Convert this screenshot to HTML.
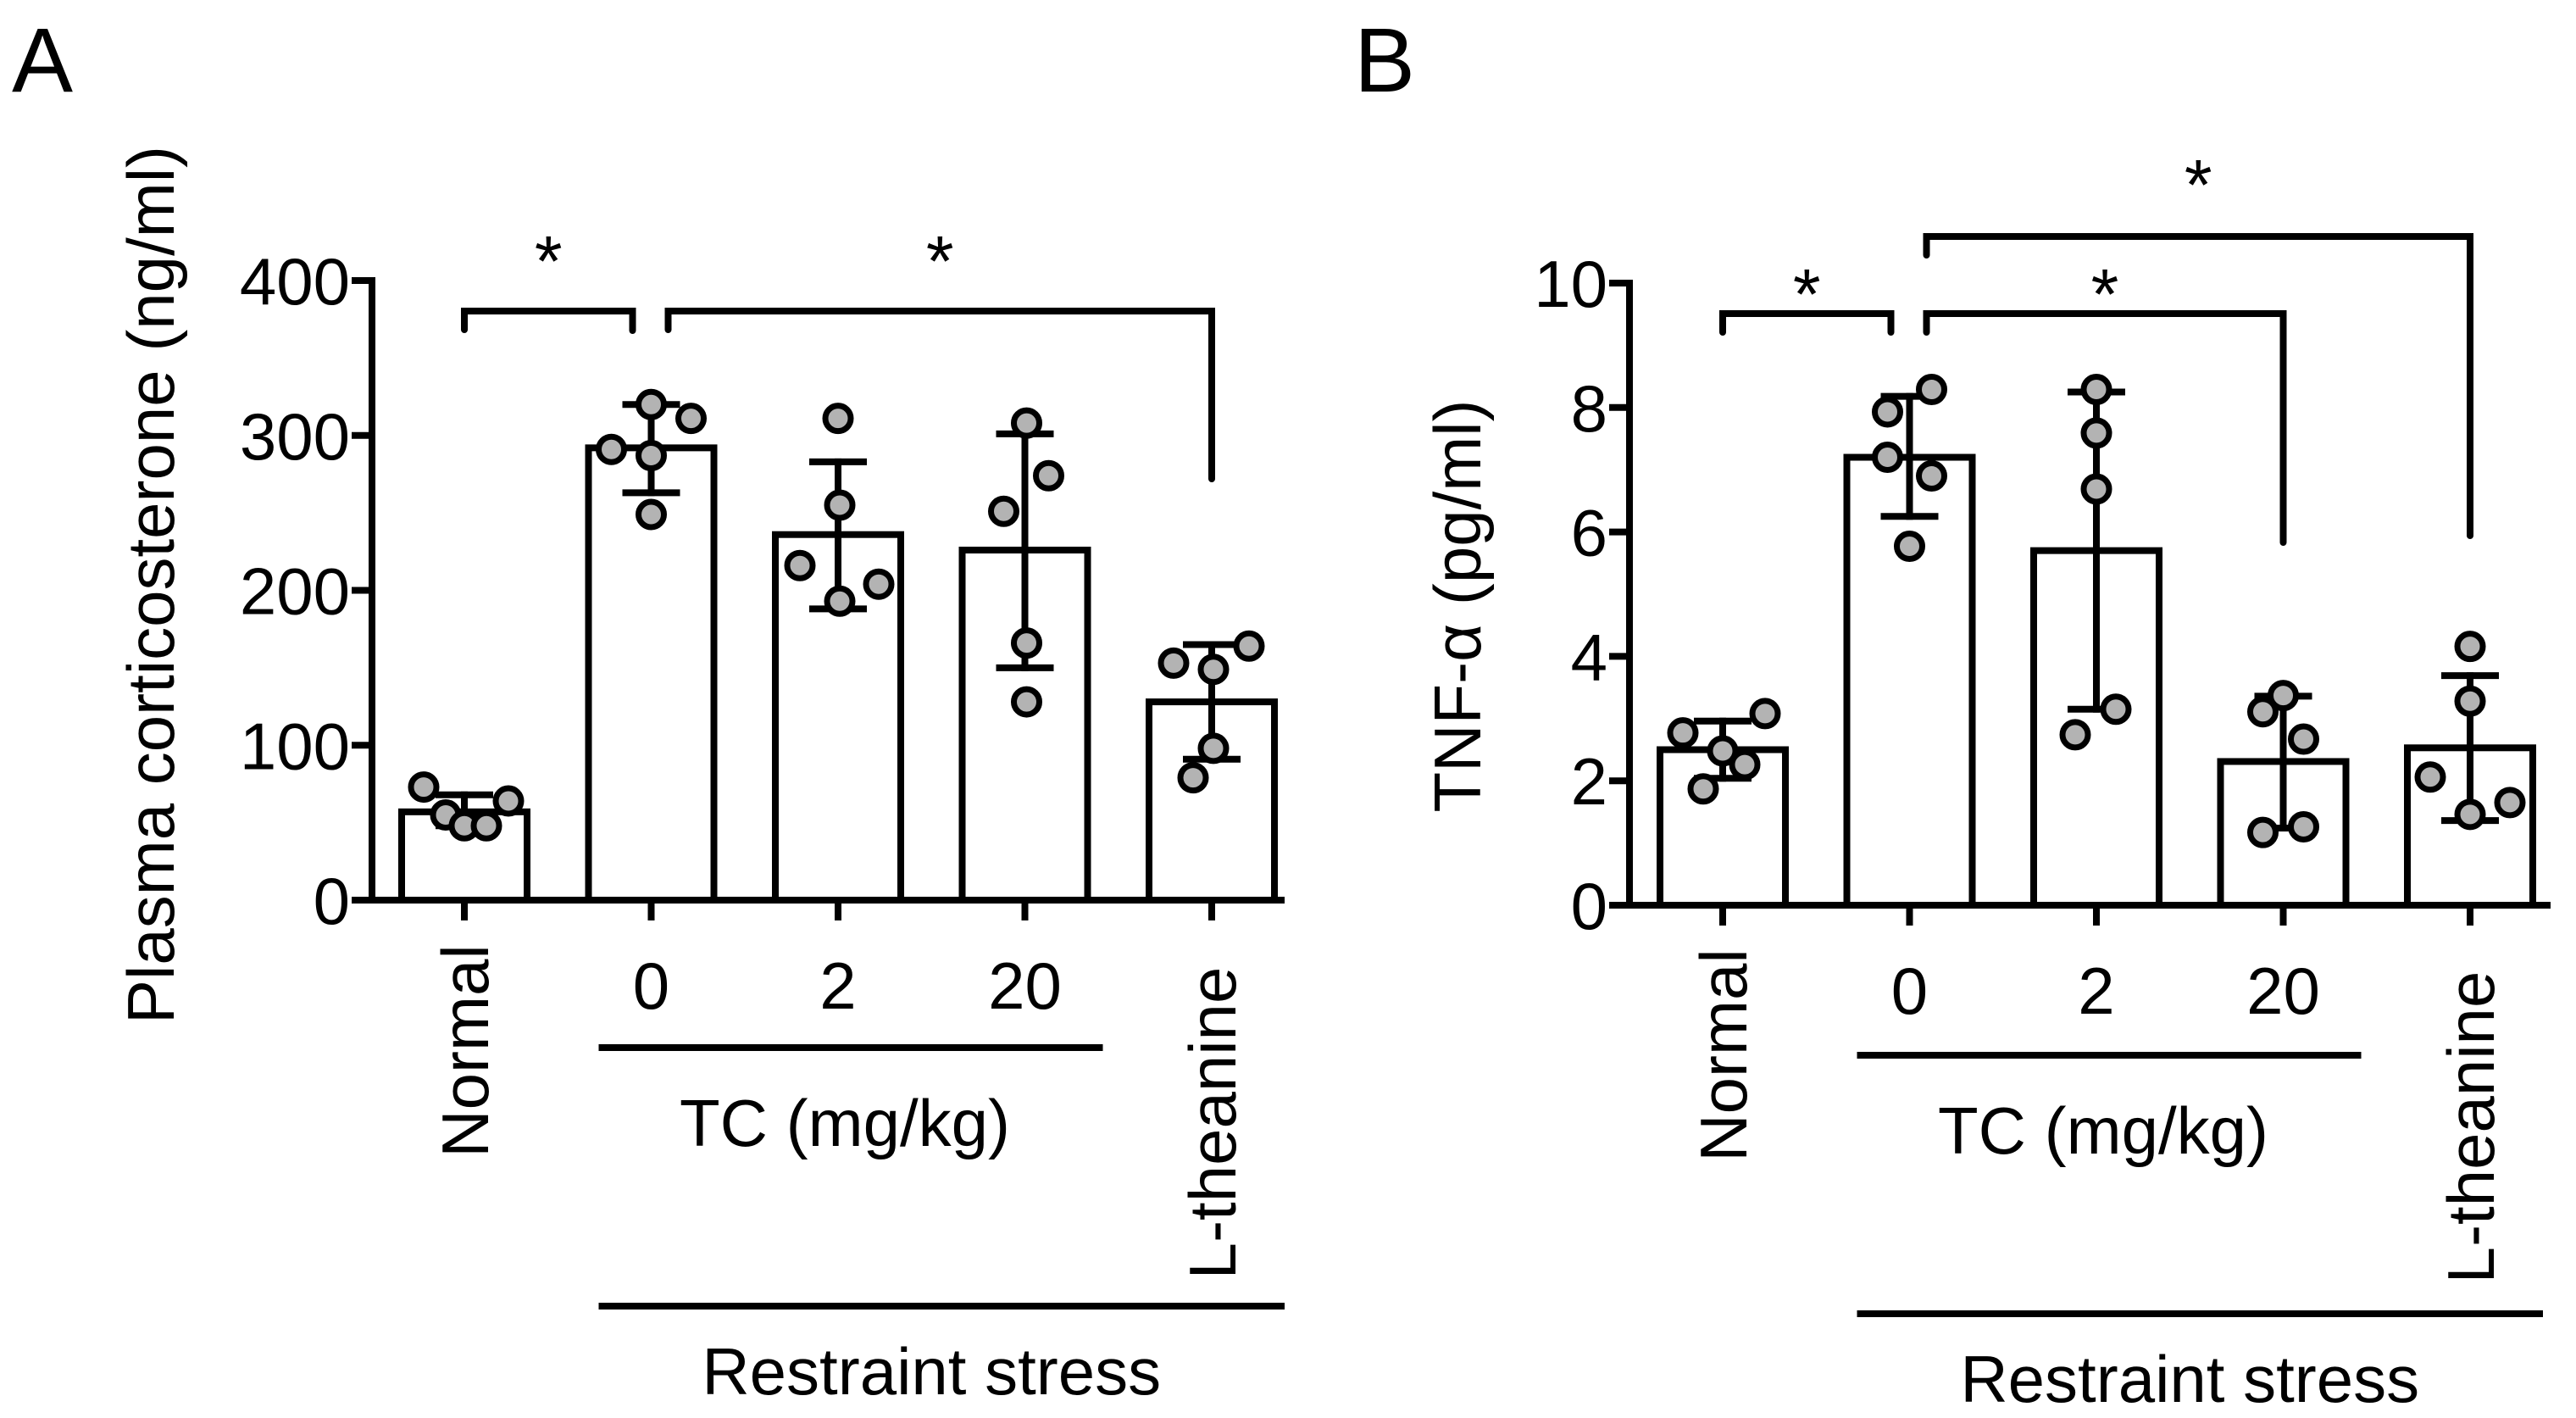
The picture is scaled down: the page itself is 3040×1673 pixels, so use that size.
<!DOCTYPE html>
<html><head><meta charset="utf-8">
<style>html,body{margin:0;padding:0;background:#fff;}svg{display:block;font-family:"Liberation Sans",Arial,sans-serif;}</style>
</head><body>
<svg id="chart" width="3040" height="1673" viewBox="0 0 3040 1673" xmlns="http://www.w3.org/2000/svg">
<rect width="3040" height="1673" fill="#fff"/>
<text x="14" y="108" font-size="108">A</text>
<text x="1598" y="108" font-size="108">B</text>
<g id="pa"></g>
<g id="pb"></g>
</svg>
<script>
const categories = ["Normal","0","2","20","L-theanine"];
const aMeans = [57, 292, 236, 226, 128];
const aErrLo = [48, 263, 188, 150, 91];
const aErrHi = [68, 320, 283, 301, 165];
const aDots = [[73,55,48,48,64],[291,320,311,287,249],[311,255,216,193,204],[308,274,251,166,128],[153,149,164,98,79]];
const aDotOff = [[-48,-22,0,26,52],[-47,0,47,0,0],[0,2,-45,2,48],[2,28,-25,2,2],[-45,2,44,2,-22]];
const aTicks = [0,100,200,300,400];
const bMeans = [2.5, 7.2, 5.7, 2.31, 2.53];
const bErrLo = [2.04, 6.25, 3.15, 1.24, 1.36];
const bErrHi = [2.96, 8.18, 8.25, 3.36, 3.69];
const bDots = [[2.77,3.08,2.48,2.26,1.87],[8.29,7.93,7.2,6.9,5.77],[8.29,7.59,6.69,3.15,2.74],[3.37,3.11,2.67,1.26,1.17],[4.16,3.28,2.06,1.65,1.46]];
const bDotOff = [[-47,50,0,26,-23],[26,-26,-26,26,0],[0,0,0,23,-25],[0,-24,24,24,-24],[0,0,-47,47,0]];
const bTicks = [0,2,4,6,8,10];

const NS="http://www.w3.org/2000/svg";
const FS=78;
function mk(p,tag,attrs,name,txt){const e=document.createElementNS(NS,tag);for(const k in attrs)e.setAttribute(k,attrs[k]);


if(txt!==undefined)e.textContent=txt;p.appendChild(e);return e;}
function line(p,x1,y1,x2,y2,name){return mk(p,'line',{x1,y1,x2,y2,stroke:'#000','stroke-width':8,'stroke-linecap':'square'},name);}

function panel(g,cfg){
  const y=v=>cfg.y0-(v-0)*(cfg.y0-cfg.yTop)/cfg.max;
  const x=i=>cfg.x0+i*220.5;
  const hw=74;
  categories.forEach((c,i)=>{
    mk(g,'rect',{x:x(i)-hw,y:y(cfg.means[i]),width:2*hw,height:cfg.y0-y(cfg.means[i]),fill:'#fff',stroke:'#000','stroke-width':8},'bar-'+c.toLowerCase());
  });
  categories.forEach((c,i)=>{
    line(g,x(i),y(cfg.lo[i]),x(i),y(cfg.hi[i]),'error-bar-'+c.toLowerCase());
    line(g,x(i)-30,y(cfg.hi[i]),x(i)+30,y(cfg.hi[i]),'error-cap-top');
    line(g,x(i)-30,y(cfg.lo[i]),x(i)+30,y(cfg.lo[i]),'error-cap-bottom');
  });
  categories.forEach((c,i)=>{
    cfg.dots[i].forEach((v,j)=>{
      mk(g,'circle',{cx:x(i)+cfg.off[i][j],cy:y(v),r:15,fill:'#b3b3b3',stroke:'#000','stroke-width':7},'data-point');
    });
  });
  line(g,cfg.axX,cfg.yTop,cfg.axX,cfg.y0,'y-axis');
  line(g,cfg.axX-20,cfg.y0,cfg.xEnd,cfg.y0,'x-axis');
  cfg.ticks.forEach(t=>{
    line(g,cfg.axX-20,y(t),cfg.axX,y(t),'y-tick');
    mk(g,'text',{x:cfg.axX-26,y:y(t)+28,'font-size':FS,'text-anchor':'end'},'y-tick-label',String(t));
  });
  categories.forEach((c,i)=>{
    line(g,x(i),cfg.y0,x(i),cfg.y0+20,'x-tick');
    if(i===0||i===4){
      const cy=i===0?cfg.normY:cfg.ltY;
      mk(g,'text',{x:0,y:0,'font-size':FS,'text-anchor':'middle',transform:`translate(${x(i)+28},${cy}) rotate(-90)`},'x-label-'+c.toLowerCase(),c);
    } else {
      mk(g,'text',{x:x(i),y:cfg.y0+128,'font-size':FS,'text-anchor':'middle'},'x-label-tc-'+c,c);
    }
  });
  line(g,x(1)-58,cfg.tcLineY,x(3)+88,cfg.tcLineY,'tc-group-line');
  mk(g,'text',{x:(x(1)+x(3))/2+8,y:cfg.tcLineY+116,'font-size':FS,'text-anchor':'middle'},'tc-group-label','TC (mg/kg)');
  line(g,x(1)-58,cfg.rsLineY,x(4)+82,cfg.rsLineY,'restraint-group-line');
  mk(g,'text',{x:(x(1)+x(4))/2,y:cfg.rsLineY+104,'font-size':FS,'text-anchor':'middle'},'restraint-group-label','Restraint stress');
  mk(g,'text',{x:0,y:0,'font-size':FS,'text-anchor':'middle',transform:`translate(${cfg.titleX},${cfg.titleY}) rotate(-90)`},'y-axis-title',cfg.title);
  cfg.br.forEach(b=>{
    const xa=x(b[0])+b[1], xb=x(b[2])+b[3];
    mk(g,'path',{d:`M${xa} ${b[4]+22} V${b[4]} H${xb} V${b[5]}`,fill:'none',stroke:'#000','stroke-width':8,'stroke-linecap':'round'},'significance-bracket');
    mk(g,'text',{x:(xa+xb)/2,y:b[4]+b[6],'font-size':84,'text-anchor':'middle'},'significance-star','*');
  });
}
panel(document.getElementById('pa'),{x0:548,axX:439,y0:1062,yTop:331,max:400,xEnd:1512,means:aMeans,lo:aErrLo,hi:aErrHi,dots:aDots,off:aDotOff,ticks:aTicks,
 normY:1240,ltY:1325,tcLineY:1236,rsLineY:1541,titleX:205,titleY:690,title:'Plasma corticosterone (ng/ml)',
 br:[[0,0,1,-22,367,390,-30],[1,20,4,0,367,565,-30]]});
panel(document.getElementById('pb'),{x0:2033,axX:1923,y0:1068,yTop:334,max:10,xEnd:3006,means:bMeans,lo:bErrLo,hi:bErrHi,dots:bDots,off:bDotOff,ticks:bTicks,
 normY:1245,ltY:1330,tcLineY:1245,rsLineY:1550,titleX:1747,titleY:715,title:'TNF-α (pg/ml)',
 br:[[0,0,1,-22,370,392,6],[1,20,3,0,370,640,6],[1,20,4,0,279,632,-32]]});
</script>
</body></html>
